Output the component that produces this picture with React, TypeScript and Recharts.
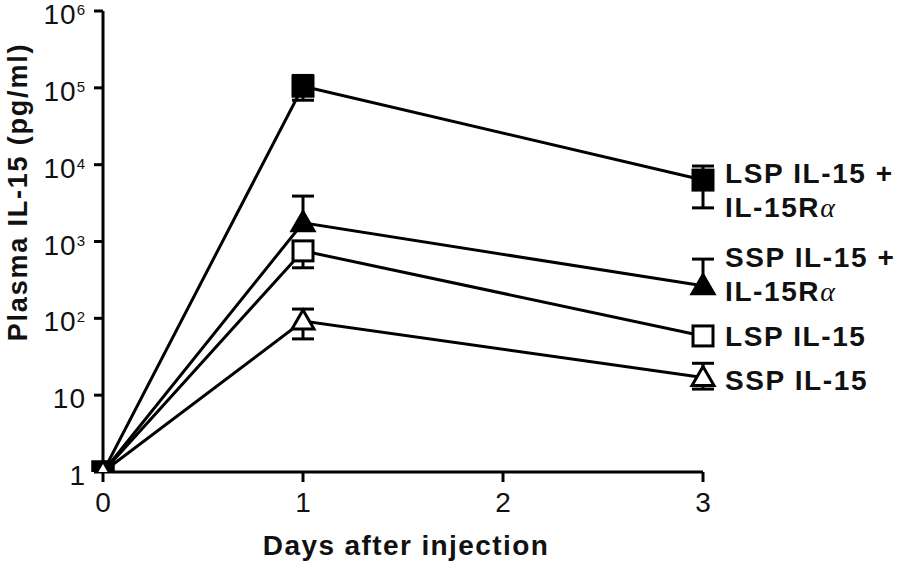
import { LineChart, Line, XAxis, YAxis, ErrorBar } from "recharts";

const days = [0, 1, 3];

// plasma IL-15, pg/ml
const lspRa = [1, 105000, 6300];
const lspRaErr = [null, [36000, 40000], [3560, 3300]];
const sspRa = [1, 1750, 265];
const sspRaErr = [null, [300, 2150], [50, 325]];
const lsp = [1, 755, 59];
const lspErr = [null, [300, 150], [8, 8]];
const ssp = [1, 92, 17];
const sspErr = [null, [38, 40], [5, 9]];

const xTicks = [0, 1, 2, 3];
const yTicks = [1, 10, 100, 1000, 10000, 100000, 1000000];

const data = days.map((d, i) => ({
  day: d,
  lspRa: lspRa[i],
  lspRaErr: lspRaErr[i],
  sspRa: sspRa[i],
  sspRaErr: sspRaErr[i],
  lsp: lsp[i],
  lspErr: lspErr[i],
  ssp: ssp[i],
  sspErr: sspErr[i],
}));

const FONT = '"Liberation Sans", Arial, Helvetica, sans-serif';

// draw order: open square, filled square, filled triangle, open triangle
const series = [
  { key: "lsp", err: "lspErr", shape: "square", filled: false, label: ["LSP IL-15"], dy: 10 },
  { key: "lspRa", err: "lspRaErr", shape: "square", filled: true, label: ["LSP IL-15 +", "IL-15R"], dy: 3 },
  { key: "sspRa", err: "sspRaErr", shape: "triangle", filled: true, label: ["SSP IL-15 +", "IL-15R"], dy: -19 },
  { key: "ssp", err: "sspErr", shape: "triangle", filled: false, label: ["SSP IL-15"], dy: 13 },
];

function Marker({ cx, cy, shape, filled }: any) {
  if (cx == null || cy == null) return null;
  const fill = filled ? "#000" : "#fff";
  if (shape === "square") {
    return <rect x={cx - 10} y={cy - 10} width={20} height={20} fill={fill} stroke="#000" strokeWidth={3} />;
  }
  return (
    <polygon
      points={`${cx},${cy - 11} ${cx + 11},${cy + 8} ${cx - 11},${cy + 8}`}
      fill={fill}
      stroke="#000"
      strokeWidth={3}
    />
  );
}

function YTick({ x, y, payload }: any) {
  const v = payload.value;
  const exp = Math.round(Math.log10(v));
  return (
    <text x={x} y={y + 13} textAnchor="end" fontFamily={FONT} fontSize={28} letterSpacing={1} fill="#111">
      {exp === 0 ? "1" : exp === 1 ? "10" : (
        <>
          <tspan>10</tspan>
          <tspan dy={-9} fontSize={15}>{exp}</tspan>
        </>
      )}
    </text>
  );
}

function XTick({ x, y, payload }: any) {
  return (
    <text x={x} y={y + 28} textAnchor="middle" fontFamily={FONT} fontSize={28} fill="#111">
      {payload.value}
    </text>
  );
}

export default function App() {
  return (
    <div style={{ position: "absolute", left: 0, top: 0, width: 900, height: 561, background: "#fff" }}>
      <LineChart width={900} height={561} data={data} margin={{ top: 11, right: 197, bottom: 0, left: 0 }}>
        <XAxis
          dataKey="day"
          type="number"
          domain={[0, 3]}
          ticks={xTicks}
          tick={<XTick />}
          tickSize={10}
          height={89}
          axisLine={{ stroke: "#000", strokeWidth: 3 }}
          tickLine={{ stroke: "#000", strokeWidth: 3 }}
          label={() => (
            <text
              x={406}
              y={555}
              textAnchor="middle"
              fontFamily={FONT}
              fontSize={28}
              letterSpacing={1.4}
              fontWeight="bold"
              fill="#111"
            >
              Days after injection
            </text>
          )}
        />
        <YAxis
          scale="log"
          domain={[1, 1000000]}
          ticks={yTicks}
          tick={<YTick />}
          tickSize={9}
          tickMargin={8}
          width={103}
          allowDataOverflow
          axisLine={{ stroke: "#000", strokeWidth: 3 }}
          tickLine={{ stroke: "#000", strokeWidth: 3 }}
          label={() => (
            <text
              x={27}
              y={192}
              transform="rotate(-90 27 192)"
              textAnchor="middle"
              fontFamily={FONT}
              fontSize={27}
              letterSpacing={1.8}
              fontWeight="bold"
              fill="#111"
            >
              Plasma IL-15 (pg/ml)
            </text>
          )}
        />
        {series.map((s) => (
          <Line
            key={s.key}
            dataKey={s.key}
            type="linear"
            stroke="#000"
            strokeWidth={3}
            isAnimationActive={false}
            dot={(p: any) => <Marker key={`${s.key}-${p.index}`} cx={p.cx} cy={p.cy} shape={s.shape} filled={s.filled} />}
            activeDot={false}
            label={(p: any) =>
              p.index === days.length - 1 ? (
                <text
                  key={`${s.key}-lbl`}
                  x={p.x + 22}
                  y={p.y + s.dy}
                  fontFamily={FONT}
                  fontSize={28}
                  letterSpacing={1.6}
                  fontWeight="bold"
                  fill="#111"
                >
                  {s.label.map((t, i) => (
                    <tspan key={i} x={p.x + 22} dy={i === 0 ? 0 : 34}>
                      {t}
                      {i === 1 ? (
                        <tspan fontFamily='"Liberation Serif", "DejaVu Serif", serif' fontStyle="italic" fontWeight="normal">
                          {"\u03b1"}
                        </tspan>
                      ) : null}
                    </tspan>
                  ))}
                </text>
              ) : (
                <g key={`${s.key}-lbl-${p.index}`} />
              )
            }
          >
            <ErrorBar dataKey={s.err} width={11} stroke="#000" strokeWidth={3} direction="y" />
          </Line>
        ))}
      </LineChart>
    </div>
  );
}
